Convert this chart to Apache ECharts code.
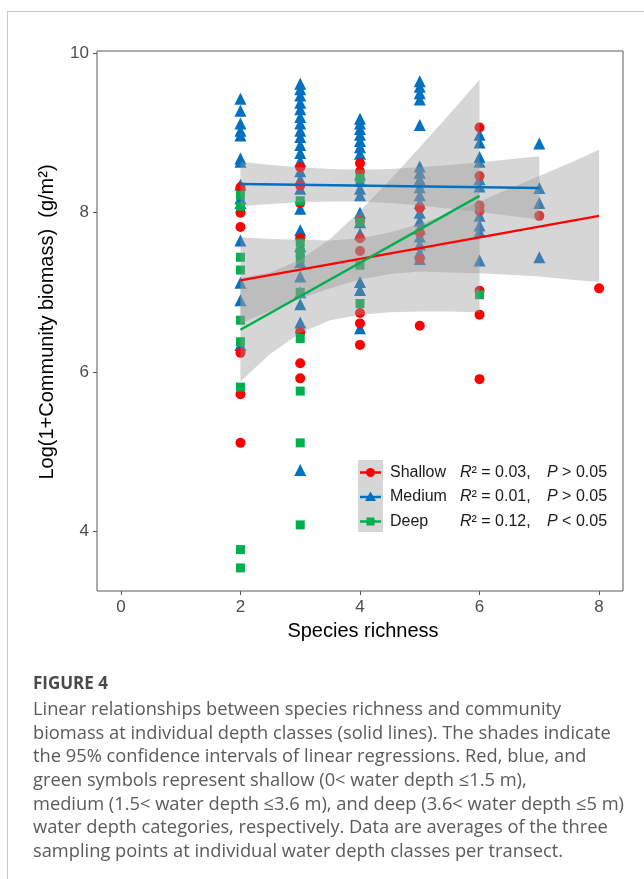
<!DOCTYPE html>
<html>
<head>
<meta charset="utf-8">
<script src="https://cdn.jsdelivr.net/npm/echarts/dist/echarts.min.js"></script>
<style>
  html, body { margin: 0; padding: 0; background: #fff; }
  #main { width: 644px; height: 879px; }
</style>
</head>
<body>
<div id="main"></div>
<script>
// tick labels
var xTicks = [0, 2, 4, 6, 8];
var yTicks = [4, 6, 8, 10];

// points: [species richness, log(1+biomass)]
var shallowPts = [
  [2, 8.32], [2, 8.0], [2, 7.82], [2, 6.24], [2, 5.72], [2, 5.11],
  [3, 8.57], [3, 8.34], [3, 8.12], [3, 7.68], [3, 6.5], [3, 6.11], [3, 5.92],
  [4, 8.62], [4, 8.52], [4, 7.9], [4, 7.68], [4, 7.52], [4, 6.74], [4, 6.61], [4, 6.34],
  [5, 8.06], [5, 7.75], [5, 7.42], [5, 6.58],
  [6, 9.07], [6, 8.46], [6, 8.09], [6, 8.02], [6, 7.02], [6, 6.72], [6, 5.91],
  [7, 7.96], [8, 7.05]
];
var mediumPts = [
  [2, 9.43], [2, 9.28], [2, 9.12], [2, 9.03], [2, 8.97], [2, 8.68], [2, 8.64], [2, 8.35],
  [2, 8.18], [2, 8.12], [2, 7.65], [2, 7.12], [2, 6.9], [2, 6.34],
  [3, 9.62], [3, 9.55], [3, 9.47], [3, 9.38], [3, 9.3], [3, 9.2], [3, 9.12], [3, 9.03],
  [3, 8.95], [3, 8.85], [3, 8.75], [3, 8.65], [3, 8.52], [3, 8.42], [3, 8.3], [3, 8.05],
  [3, 7.78], [3, 7.58], [3, 7.38], [3, 7.2], [3, 7.0], [3, 6.85], [3, 6.62], [3, 4.77],
  [4, 9.18], [4, 9.12], [4, 9.05], [4, 8.98], [4, 8.9], [4, 8.82], [4, 8.74], [4, 8.48],
  [4, 8.4], [4, 8.3], [4, 8.22], [4, 8.0], [4, 7.88], [4, 7.74], [4, 7.13], [4, 7.03], [4, 6.55],
  [5, 9.65], [5, 9.58], [5, 9.5], [5, 9.42], [5, 9.1], [5, 8.58], [5, 8.5], [5, 8.42],
  [5, 8.32], [5, 8.22], [5, 8.12], [5, 8.0], [5, 7.9], [5, 7.8], [5, 7.7], [5, 7.6], [5, 7.5], [5, 7.42],
  [6, 8.98], [6, 8.88], [6, 8.7], [6, 8.64], [6, 8.42], [6, 8.33], [6, 7.96], [6, 7.84], [6, 7.76], [6, 7.4],
  [7, 8.87], [7, 8.31], [7, 8.12], [7, 7.44]
];
var deepPts = [
  [2, 8.22], [2, 8.08], [2, 7.44], [2, 7.28], [2, 6.65], [2, 6.38], [2, 5.81], [2, 3.77], [2, 3.54],
  [3, 8.15], [3, 7.62], [3, 7.5], [3, 7.42], [3, 7.0], [3, 6.42], [3, 5.76], [3, 5.11], [3, 4.08],
  [4, 8.43], [4, 7.88], [4, 7.34], [4, 6.86],
  [6, 6.97]
];

// fitted lines (end points)
var shallowFit = [[2, 7.15], [8, 7.96]];
var mediumFit = [[2, 8.36], [7, 8.31]];
var deepFit = [[2, 6.53], [6, 8.21]];

// 95% confidence bands
var shallowBandX = [2, 2.5, 3, 3.5, 4, 4.5, 5, 5.5, 6, 6.5, 7, 7.5, 8];
var shallowLo = [6.61, 6.77, 6.92, 7.05, 7.16, 7.23, 7.26, 7.25, 7.24, 7.22, 7.20, 7.16, 7.13];
var shallowHi = [7.69, 7.67, 7.66, 7.65, 7.68, 7.75, 7.86, 7.99, 8.14, 8.30, 8.46, 8.62, 8.79];
var mediumBandX = [2, 2.5, 3, 3.5, 4, 4.5, 5, 5.5, 6, 6.5, 7];
var mediumLo = [8.08, 8.11, 8.13, 8.14, 8.14, 8.12, 8.09, 8.05, 8.01, 7.96, 7.91];
var mediumHi = [8.64, 8.60, 8.57, 8.55, 8.54, 8.55, 8.57, 8.60, 8.63, 8.67, 8.71];
var deepBandX = [2, 2.5, 3, 3.5, 4, 4.5, 5, 5.5, 6];
var deepLo = [5.88, 6.23, 6.49, 6.65, 6.72, 6.75, 6.76, 6.76, 6.75];
var deepHi = [7.18, 7.25, 7.41, 7.67, 8.02, 8.41, 8.82, 9.24, 9.67];

var captionLines = [
  'Linear relationships between species richness and community',
  'biomass at individual depth classes (solid lines). The shades indicate',
  'the 95% confidence intervals of linear regressions. Red, blue, and',
  'green symbols represent shallow (0< water depth \u22641.5 m),',
  'medium (1.5< water depth \u22643.6 m), and deep (3.6< water depth \u22645 m)',
  'water depth categories, respectively. Data are averages of the three',
  'sampling points at individual water depth classes per transect.'
];

var RED = '#ff0000', BLUE = '#0070c0', GREEN = '#00b050';
var BAND = 'rgba(153,153,153,0.4)';
var FONT = '"Liberation Sans", Arial, sans-serif';

var chart = echarts.init(document.getElementById('main'));

function bandSeries(xs, lo, hi) {
  return {
    type: 'custom',
    silent: true,
    z: 3,
    data: xs.map(function (x, i) { return [x, lo[i], hi[i]]; }),
    encode: { x: 0, y: [1, 2] },
    renderItem: function (params, api) {
      if (params.dataIndex !== 0) return null;
      var pts = [];
      for (var i = 0; i < xs.length; i++) pts.push(api.coord([xs[i], hi[i]]));
      for (var j = xs.length - 1; j >= 0; j--) pts.push(api.coord([xs[j], lo[j]]));
      return { type: 'polygon', shape: { points: pts }, style: { fill: BAND } };
    }
  };
}

function fitSeries(d, color) {
  return {
    type: 'line', data: d, z: 4, silent: true, symbol: 'none',
    lineStyle: { color: color, width: 2.5 }
  };
}

function scatterSeries(name, d, symbol, size, color) {
  return {
    name: name, type: 'scatter', data: d, z: 2, symbol: symbol, symbolSize: size,
    itemStyle: { color: color, opacity: 1 }
  };
}

// legend keys and text
var legendRows = [
  { name: 'Shallow', r2: '0.03', p: '> 0.05', color: RED, sym: 'circle' },
  { name: 'Medium', r2: '0.01', p: '> 0.05', color: BLUE, sym: 'triangle' },
  { name: 'Deep', r2: '0.12', p: '< 0.05', color: GREEN, sym: 'square' }
];
var graphics = [
  // page frame
  { type: 'line', shape: { x1: 7, y1: 11.5, x2: 644, y2: 11.5 }, style: { stroke: '#c8c8c8', lineWidth: 1 } },
  { type: 'line', shape: { x1: 7.5, y1: 11, x2: 7.5, y2: 879 }, style: { stroke: '#c8c8c8', lineWidth: 1 } },
  // axis titles
  { type: 'text', x: 47, y: 322, rotation: Math.PI / 2,
    style: { text: 'Log(1+Community biomass)  (g/m\u00b2)', font: '20px ' + FONT, fill: '#000',
      align: 'center', verticalAlign: 'middle' } },
  { type: 'text', x: 363, y: 631,
    style: { text: 'Species richness', font: '20px ' + FONT, fill: '#000',
      align: 'center', verticalAlign: 'middle' } },
  // legend key background
  { type: 'rect', shape: { x: 358, y: 460, width: 25, height: 72 }, style: { fill: '#d6d6d6' } }
];
legendRows.forEach(function (r, i) {
  var cy = 472.5 + i * 24.5;
  graphics.push({ type: 'line', shape: { x1: 360, y1: cy, x2: 381, y2: cy }, style: { stroke: r.color, lineWidth: 2.5 } });
  if (r.sym === 'circle') {
    graphics.push({ type: 'circle', shape: { cx: 370.5, cy: cy, r: 4.5 }, style: { fill: r.color } });
  } else if (r.sym === 'triangle') {
    graphics.push({ type: 'polygon', shape: { points: [[370.5, cy - 5.5], [376, cy + 4], [365, cy + 4]] }, style: { fill: r.color } });
  } else {
    graphics.push({ type: 'rect', shape: { x: 366.5, y: cy - 4, width: 8, height: 8 }, style: { fill: r.color } });
  }
  graphics.push({ type: 'text', x: 390, y: cy, style: { text: r.name, font: '16px ' + FONT, fill: '#1a1a1a', verticalAlign: 'middle' } });
  graphics.push({ type: 'text', x: 460, y: cy, style: {
    text: '{i|R}{n|\u00b2 = ' + r.r2 + ',}', verticalAlign: 'middle',
    rich: { i: { font: 'italic 16px ' + FONT, fill: '#1a1a1a' }, n: { font: '16px ' + FONT, fill: '#1a1a1a' } } } });
  graphics.push({ type: 'text', x: 547, y: cy, style: {
    text: '{i|P}{n| ' + r.p + '}', verticalAlign: 'middle',
    rich: { i: { font: 'italic 16px ' + FONT, fill: '#1a1a1a' }, n: { font: '16px ' + FONT, fill: '#1a1a1a' } } } });
});
// caption
graphics.push({ type: 'text', x: 33, y: 684, style: { text: 'FIGURE 4', font: 'bold 17px "Open Sans", sans-serif', fill: '#4a4a4a', verticalAlign: 'middle' } });
captionLines.forEach(function (t, i) {
  graphics.push({ type: 'text', x: 33, y: 710 + i * 23.6, style: { text: t, font: '18.3px "Open Sans", sans-serif', fill: '#5a5a5a', verticalAlign: 'middle' } });
});

var option = {
  backgroundColor: '#fff',
  animation: false,
  grid: { left: 97, top: 51, width: 526, height: 540, show: true, borderColor: '#595959', borderWidth: 1 },
  xAxis: {
    type: 'value', min: -0.4, max: 8.4,
    axisLine: { show: false, onZero: false },
    splitLine: { show: false },
    axisTick: { show: true, length: 4, customValues: xTicks, lineStyle: { color: '#595959' } },
    axisLabel: { customValues: xTicks, color: '#4d4d4d', fontSize: 17, fontFamily: FONT, margin: 8 }
  },
  yAxis: {
    type: 'value', min: 3.25, max: 10.03,
    axisLine: { show: false, onZero: false },
    splitLine: { show: false },
    axisTick: { show: true, length: 4, customValues: yTicks, lineStyle: { color: '#595959' } },
    axisLabel: { customValues: yTicks, color: '#4d4d4d', fontSize: 17, fontFamily: FONT, margin: 8 }
  },
  series: [
    scatterSeries('Medium', mediumPts, 'triangle', 12, BLUE),
    scatterSeries('Shallow', shallowPts, 'circle', 10, RED),
    scatterSeries('Deep', deepPts, 'rect', 9, GREEN),
    bandSeries(shallowBandX, shallowLo, shallowHi),
    bandSeries(mediumBandX, mediumLo, mediumHi),
    bandSeries(deepBandX, deepLo, deepHi),
    fitSeries(shallowFit, RED),
    fitSeries(mediumFit, BLUE),
    fitSeries(deepFit, GREEN)
  ],
  graphic: graphics
};
chart.setOption(option);
</script>
</body>
</html>
